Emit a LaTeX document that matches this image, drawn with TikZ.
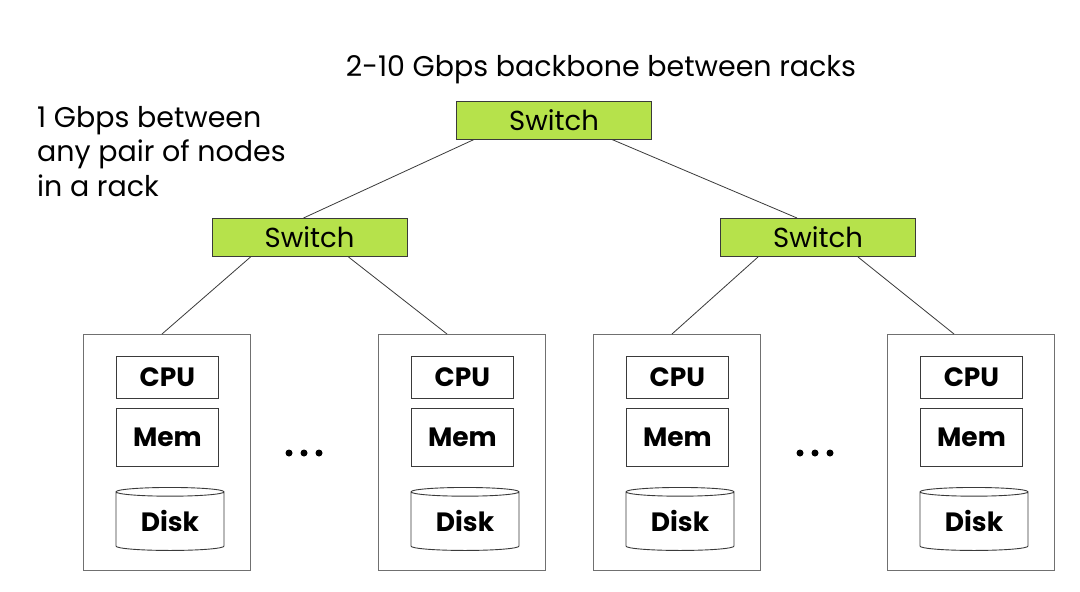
\documentclass[tikz,border=0pt]{standalone}
\usepackage{fontspec}
\setmainfont{Poppins}
\usetikzlibrary{shapes.geometric,calc}
\definecolor{swgreen}{HTML}{B6E24B}
\definecolor{swedge}{HTML}{3A3A3A}
\definecolor{boxedge}{HTML}{707070}
\begin{document}
\begin{tikzpicture}[x=1pt,y=-1pt,
  switchbox/.style={draw=swedge,fill=swgreen,line width=1pt,minimum width=195pt,minimum height=38pt,inner sep=0pt,font=\fontsize{27.5}{30}\selectfont},
  rackbox/.style={draw=boxedge,line width=0.9pt,minimum width=167pt,minimum height=236pt,inner sep=0pt},
  partbox/.style={draw=swedge,line width=0.9pt,minimum width=102pt,inner sep=0pt,font=\fontsize{26.5}{28}\selectfont\bfseries},
  diskcyl/.style={draw=swedge,line width=0.9pt,cylinder,shape border rotate=90,aspect=0.15,minimum width=108pt,minimum height=63pt,inner sep=0pt,font=\fontsize{26.5}{28}\selectfont\bfseries},
  link/.style={draw=swedge,line width=0.8pt},
  lbl/.style={font=\fontsize{28.5}{34.5}\selectfont,inner sep=0pt},
  dot/.style={circle,fill=black,inner sep=0pt,minimum size=7pt}
]
\useasboundingbox (0,0) rectangle (1080,592);
\fill[white] (0,0) rectangle (1080,592);

\node[lbl] (title) at (601,70) {2-10 Gbps backbone between racks};
\node[lbl,anchor=north west,align=left] (note) at (37,106) {1 Gbps between\\any pair of nodes\\in a rack};

\node[switchbox] (ts) at (554,120) {Switch};
\node[switchbox] (ls) at (309.5,237.5) {Switch};
\node[switchbox] (rs) at (818,237.5) {Switch};

\foreach \n/\x in {r1/83,r2/378,r3/593,r4/887}{
  \node[rackbox,anchor=north west] (\n) at (\x,334) {};
  \node[partbox,anchor=north west,minimum height=42pt] (\n cpu) at (\x+33,356) {CPU};
  \node[partbox,anchor=north west,minimum height=58pt] (\n mem) at (\x+33,408) {Mem};
  \node[diskcyl,anchor=north] (\n disk) at (\x+87,487) {\raisebox{-4pt}{Disk}};
}

\node[dot] (d1) at (289,453) {};
\node[dot] (d2) at (304,453) {};
\node[dot] (d3) at (319,453) {};
\node[dot] (d4) at (800,453) {};
\node[dot] (d5) at (815,453) {};
\node[dot] (d6) at (830,453) {};

\draw[link] ([xshift=18pt]ts.south west) -- ([xshift=92pt]ls.north west);
\draw[link] ([xshift=156pt]ts.south west) -- ([xshift=77pt]rs.north west);
\draw[link] ([xshift=39pt]ls.south west) -- ([xshift=79pt]r1.north west);
\draw[link] ([xshift=137pt]ls.south west) -- ([xshift=69pt]r2.north west);
\draw[link] ([xshift=38pt]rs.south west) -- ([xshift=79pt]r3.north west);
\draw[link] ([xshift=138pt]rs.south west) -- ([xshift=67pt]r4.north west);
\end{tikzpicture}
\end{document}
